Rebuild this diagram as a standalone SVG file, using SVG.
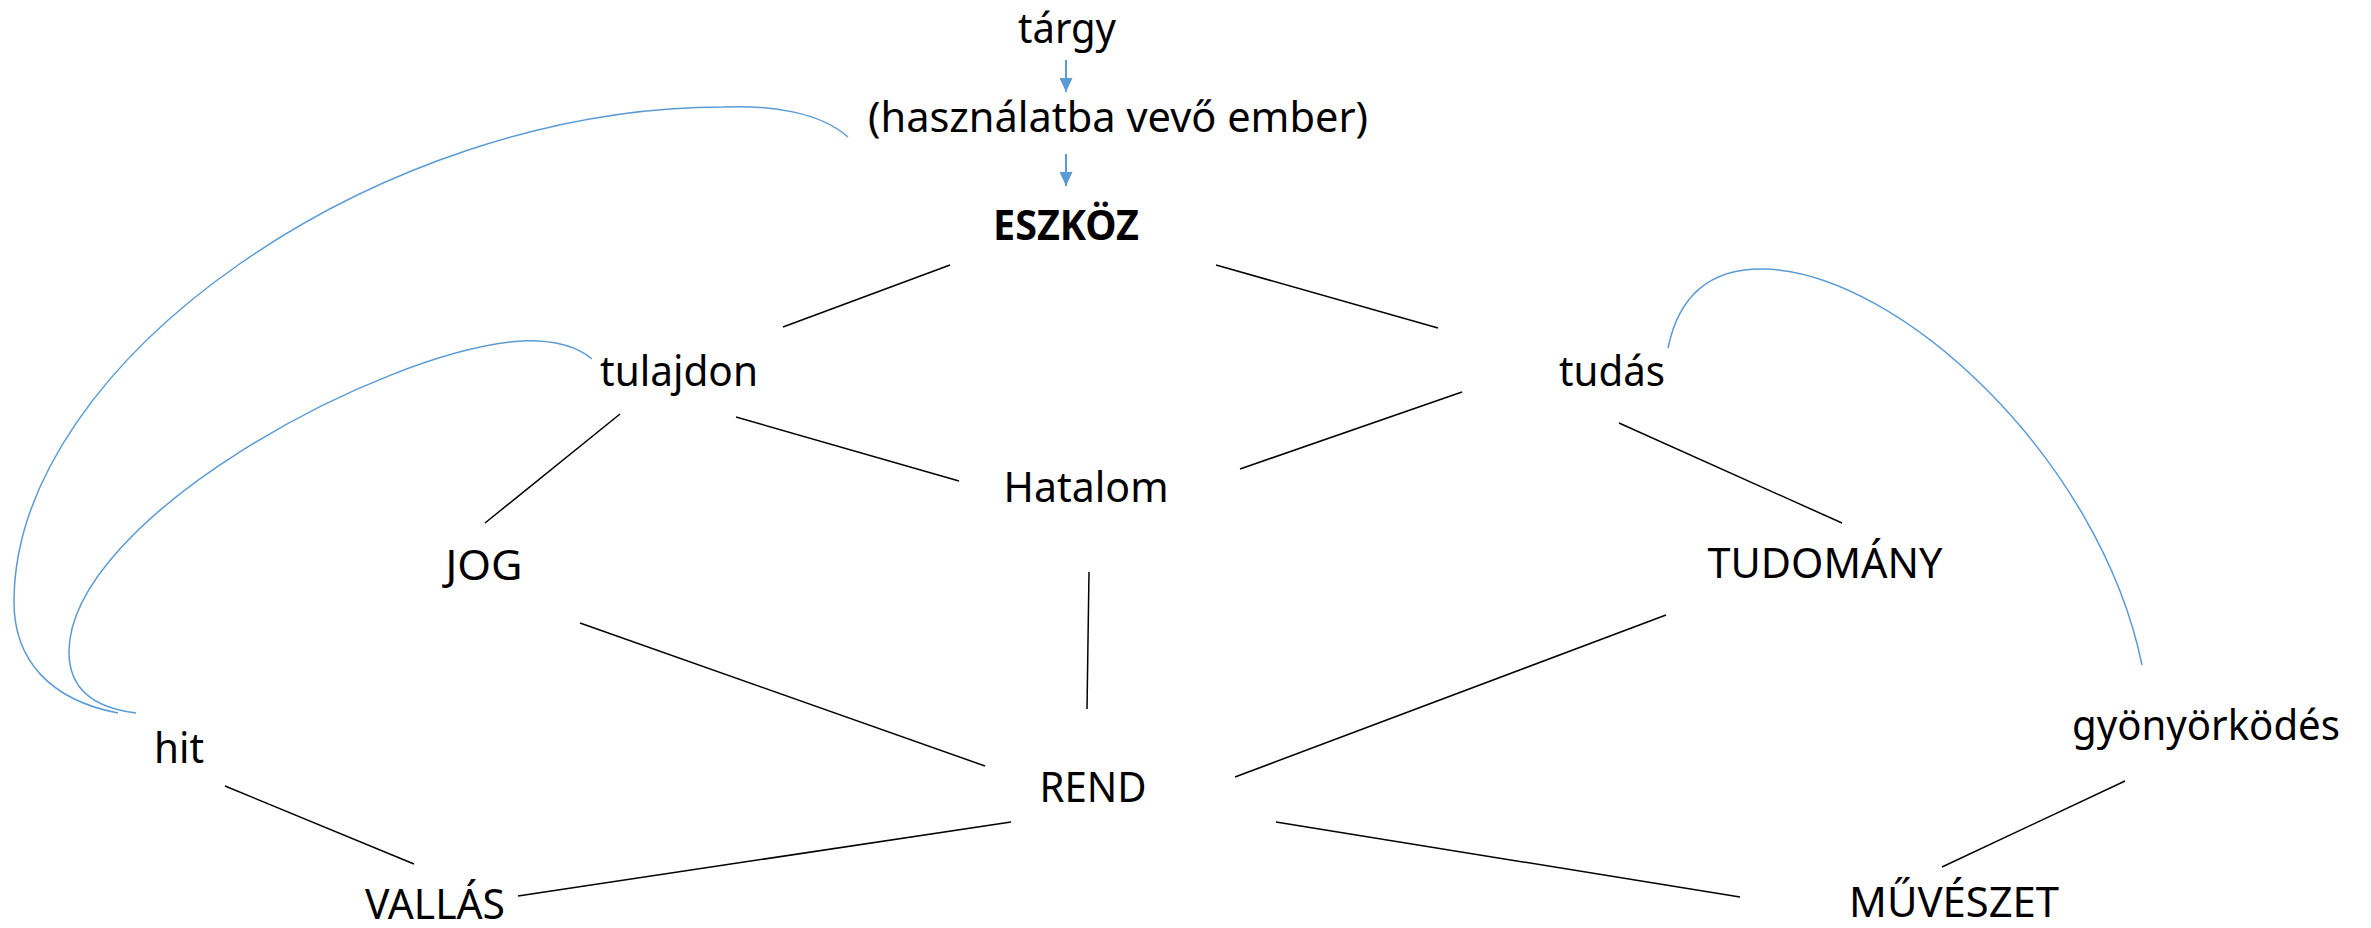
<svg xmlns="http://www.w3.org/2000/svg" width="2371" height="928" viewBox="0 0 2371 928">
<style>
text{font-family:"Noto Sans","Liberation Sans",sans-serif;font-size:42px;fill:#000;text-anchor:middle}
.b{font-weight:bold}
.ln{stroke:#000;stroke-width:1.5;fill:none}
.arc{stroke:#5B9BD5;stroke-width:1.5;fill:none}
.ar{stroke:#5B9BD5;stroke-width:2;fill:none;marker-end:url(#ah)}
</style>
<defs>
<marker id="ah" viewBox="0 0 14 13" refX="14" refY="6.5" markerWidth="14" markerHeight="13" markerUnits="userSpaceOnUse" orient="auto">
<path d="M0,0 L14,6.5 L0,13 z" fill="#5B9BD5"/>
</marker>
</defs>
<rect width="2371" height="928" fill="#fff"/>
<g id="connectors">
<line class="ar" x1="1066" y1="60" x2="1066" y2="92"/>
<line class="ar" x1="1066" y1="154" x2="1066" y2="186"/>
<path class="arc" d="M848,137 C820,112 770,105 723,107 C380,107 14,360 14,602 C14,660 50,700 118,713"/>
<path class="arc" d="M592,359 C575,345 550,340 522,341 C380,350 69,520 69,652 C69,690 95,708 136,713"/>
<path class="arc" d="M1668,348 C1680,290 1715,268 1764,269 C1900,272 2100,460 2142,665"/>
<line class="ln" x1="950" y1="265" x2="783" y2="327"/>
<line class="ln" x1="1216" y1="265" x2="1438" y2="328"/>
<line class="ln" x1="620" y1="414" x2="485" y2="523"/>
<line class="ln" x1="736" y1="417" x2="959" y2="481"/>
<line class="ln" x1="1462" y1="392" x2="1240" y2="469"/>
<line class="ln" x1="1619" y1="423" x2="1842" y2="523"/>
<line class="ln" x1="1089" y1="572" x2="1087" y2="709"/>
<line class="ln" x1="580" y1="623" x2="985" y2="766"/>
<line class="ln" x1="1666" y1="615" x2="1235" y2="777"/>
<line class="ln" x1="225" y1="786" x2="414" y2="864"/>
<line class="ln" x1="518" y1="896" x2="1011" y2="822"/>
<line class="ln" x1="1276" y1="822" x2="1740" y2="897"/>
<line class="ln" x1="2125" y1="781" x2="1942" y2="867"/>
</g>
<g id="n-targy"><text x="1067" y="43" textLength="98" lengthAdjust="spacingAndGlyphs">tárgy</text></g>
<g id="n-ember"><text x="1118" y="132" textLength="500" lengthAdjust="spacingAndGlyphs">(használatba vevő ember)</text></g>
<g id="n-eszkoz"><text class="b" x="1066" y="240" textLength="146" lengthAdjust="spacingAndGlyphs">ESZKÖZ</text></g>
<g id="n-tulajdon"><text x="679" y="386" textLength="158" lengthAdjust="spacingAndGlyphs">tulajdon</text></g>
<g id="n-tudas"><text x="1612" y="386" textLength="106" lengthAdjust="spacingAndGlyphs">tudás</text></g>
<g id="n-hatalom"><text x="1086" y="502" textLength="165" lengthAdjust="spacingAndGlyphs">Hatalom</text></g>
<g id="n-jog"><text x="484" y="580" textLength="77" lengthAdjust="spacingAndGlyphs">JOG</text></g>
<g id="n-tudomany"><text x="1825" y="578" textLength="235" lengthAdjust="spacingAndGlyphs">TUDOMÁNY</text></g>
<g id="n-hit"><text x="179" y="763" textLength="50" lengthAdjust="spacingAndGlyphs">hit</text></g>
<g id="n-gyonyorkodes"><text x="2206" y="740" textLength="268" lengthAdjust="spacingAndGlyphs">gyönyörködés</text></g>
<g id="n-rend"><text x="1093" y="802" textLength="107" lengthAdjust="spacingAndGlyphs">REND</text></g>
<g id="n-vallas"><text x="435" y="919" textLength="140" lengthAdjust="spacingAndGlyphs">VALLÁS</text></g>
<g id="n-muveszet"><text x="1954" y="917" textLength="210" lengthAdjust="spacingAndGlyphs">MŰVÉSZET</text></g>
</svg>
